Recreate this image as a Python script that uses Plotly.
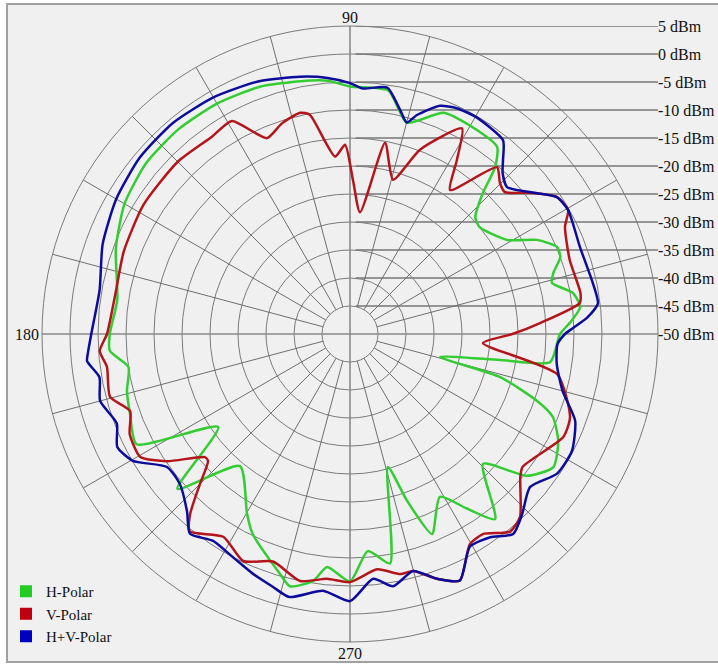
import plotly.graph_objects as go

# ---------------- data (dBm vs angle in degrees) ----------------
h_theta = [0, 2.9, 6.7, 10.4, 14.2, 16.7, 20.1, 22.8, 26.7, 30.9, 39.5, 43, 46.7, 49, 51.8, 58, 67, 75, 81, 90,
           95, 101, 110, 120, 130, 140, 150, 160, 171.7, 180, 184, 188.5, 194.3, 200, 207.3, 215.2, 221.9,
           230.2, 240.2, 244, 253.7, 256.6, 261.5, 264.4, 270, 274.7, 279.9, 285.9, 288.9, 292.3, 298.9,
           303.8, 308.1, 315.7, 321.3, 326.8, 332.8, 337.8, 340.3, 344, 345.7, 350.2, 352, 360]
h_db = [-12.5, -10.7, -8.6, -9.5, -12.8, -12.1, -10, -9.9, -12.6, -17.3, -20, -19.4, -15.4, -10.5, -7.5, -7.1,
        -7.1, -10.9, -6, -5.8, -4.6, -4, -3, -2.5, -2.3, -2.5, -3.5, -5.5, -8, -7.1, -7, -10, -8.9, -8.2, -7.1,
        -21.2, -8.6, -19.3, -13, -10.3, -5.4, -3.7, -5.4, -8.2, -5.8, -11.1, -8.4, -25.3, -18.5, -11.4,
        -16.8, -12.5, -8, -16.8, -9.5, -6.6, -8.2, -10.9, -14.5, -22.1, -33.4, -22.8, -13.9, -12.5]

v_theta = [0, 3.3, 7.7, 10.1, 18.6, 26.5, 29.6, 33.5, 38.3, 42.5, 45.2, 48.6, 55.2, 58.4, 61.4, 69.2, 74.4,
           79.6, 85.3, 88.9, 91.5, 94.8, 100.4, 102.7, 108, 113, 119, 125, 135, 148, 160, 170, 180, 183.9,
           187.7, 194.7, 199.3, 204.4, 210.4, 214.8, 220.3, 221.8, 225, 228.4, 230.9, 238, 244.8, 251.3,
           258.6, 264.6, 270, 276.6, 281.8, 284.9, 289.6, 294, 299.7, 303.6, 309, 312.9, 320, 322.4, 334.2,
           339.3, 349, 356.1, 360]
v_db = [-21, -16, -8.6, -8.2, -8.6, -7.1, -5.2, -5.7, -9.3, -12.5, -12, -10.3, -18.7, -13.6, -8.2, -14.8,
        -21.4, -15.3, -28.2, -22.5, -16.2, -18.2, -10.2, -9.5, -10.5, -12, -6.5, -7, -6.5, -6.5, -7, -7.5, -6.6,
        -5.2, -6.2, -5.7, -8.4, -6.8, -6.6, -10.2, -16, -16, -12.1, -7, -4.6, -7.3, -5.2, -7.1, -5, -6.1,
        -5.7, -7.7, -6.2, -6.2, -3.6, -1.8, -6.8, -7.1, -4.6, -5.4, -10.3, -11.1, -7.7, -8, -12.3, -26.2, -21]

hv_theta = [0, 1.5, 4, 7, 11.9, 20.7, 29.6, 33.5, 38.3, 43.1, 46.5, 48.7, 51.7, 59.7, 64.7, 68.5, 73, 75,
            77.4, 81.4, 87, 90, 95, 101, 110, 120, 130, 140, 150, 160, 170, 180, 184, 185.9, 189.8, 195, 201,
            205.9, 210.3, 216, 221.4, 227.4, 231.3, 236.5, 242.3, 248, 253, 257, 264, 270, 275.4, 279.7,
            284.9, 289.6, 294, 299.4, 304.6, 309.2, 313.7, 319.6, 326, 332.2, 338.9, 345, 351.8, 357.2, 360]
hv_db = [-11.6, -10.2, -7.5, -5.4, -5.7, -6.1, -5.2, -5.7, -9.1, -11.6, -10.4, -8.6, -5.9, -5.2, -5.4, -6.2,
         -9.1, -10.9, -9, -5.5, -6.1, -5.2, -4.1, -3.2, -2, -1.2, -0.8, -1, -1.8, -3, -4.6, -3.8, -3.1,
         -2.8, -4.6, -3.8, -5.4, -3.8, -5.1, -9.6, -9.5, -7, -4.3, -5.7, -5, -3.8, -2.8, -1.8, -3.9, -2.3,
         -6.1, -4.3, -6.2, -3.6, -1.8, -6.4, -5.9, -3.9, -5.5, -7.8, -5.4, -5.2, -6.9, -10.7, -12.7, -12.9, -11.6]

series_names = ["H-Polar", "V-Polar", "H+V-Polar"]
series_colors = ["#33cc33", "#b3151b", "#0c0c9c"]
legend_colors = ["#22cc22", "#c00010", "#0000c0"]

ring_vals = [-45, -40, -35, -30, -25, -20, -15, -10, -5, 0, 5]
ring_labels = ["-45 dBm", "-40 dBm", "-35 dBm", "-30 dBm", "-25 dBm", "-20 dBm",
               "-15 dBm", "-10 dBm", "-5 dBm", "0 dBm", "5 dBm"]
r_min, r_max = -50, 5
spoke_angles = [a for a in range(0, 360, 15) if a % 90 != 0]
axis_angles = [0, 90, 180, 270]
angle_labels = ["90", "180", "270"]

# ---------------- layout geometry ----------------
W, H = 718, 664
cx, cy, R = 350, 334, 308
xdom = [(cx - R) / W, (cx + R) / W]
ydom = [(H - (cy + R)) / H, (H - (cy - R)) / H]
FONT = "Liberation Serif"

fig = go.Figure()

# spokes (start at first ring) and main cross
sp_r, sp_t = [], []
for a in spoke_angles:
    sp_r += [ring_vals[0], r_max, None]
    sp_t += [a, a, None]
fig.add_trace(go.Scatterpolar(r=sp_r, theta=sp_t, mode="lines", line=dict(color="#6e6e6e", width=1),
                              hoverinfo="skip", showlegend=False))
ax_r, ax_t = [], []
for a in axis_angles:
    ax_r += [r_min, r_max, None]
    ax_t += [a, a, None]
fig.add_trace(go.Scatterpolar(r=ax_r, theta=ax_t, mode="lines", line=dict(color="#8a8a8a", width=1.6),
                              hoverinfo="skip", showlegend=False))

# data curves
for th, db, name, col in zip([h_theta, v_theta, hv_theta], [h_db, v_db, hv_db], series_names, series_colors):
    fig.add_trace(go.Scatterpolar(r=db, theta=th, mode="lines", name=name,
                                  line=dict(color=col, width=2.5, shape="spline", smoothing=0.6),
                                  showlegend=False))

# legend entries (square markers)
for name, col in zip(series_names, legend_colors):
    fig.add_trace(go.Scatterpolar(r=[None], theta=[None], mode="markers", name=name,
                                  marker=dict(symbol="square", size=12, color=col)))

# horizontal leader lines to the dBm labels (cartesian overlay in radius units)
span = r_max - r_min
lx, ly = [], []
for v in ring_vals:
    lx += [1, span, None]
    ly += [v - r_min, v - r_min, None]
fig.add_trace(go.Scatter(x=lx, y=ly, mode="lines", line=dict(color="#3a3a3a", width=1),
                         hoverinfo="skip", showlegend=False, xaxis="x", yaxis="y"))
for v, t in zip(ring_vals + [r_min], ring_labels + ["-50 dBm"]):
    fig.add_annotation(x=span, y=v - r_min, xref="x", yref="y", text=t, showarrow=False,
                       xanchor="left", yanchor="middle", xshift=-2,
                       font=dict(family=FONT, size=16, color="#111111"))

# angular labels at 90 / 180 / 270
afont = dict(family=FONT, size=16, color="#111111")
fig.add_annotation(x=0, y=span, xref="x", yref="y", text=angle_labels[0], showarrow=False,
                   xanchor="center", yanchor="middle", yshift=9, font=afont)
fig.add_annotation(x=-span, y=0, xref="x", yref="y", text=angle_labels[1], showarrow=False,
                   xanchor="right", yanchor="middle", xshift=-1, font=afont)
fig.add_annotation(x=0, y=-span, xref="x", yref="y", text=angle_labels[2], showarrow=False,
                   xanchor="center", yanchor="middle", yshift=-11, font=afont)

fig.update_layout(
    width=W, height=H,
    margin=dict(l=0, r=0, t=0, b=0),
    paper_bgcolor="white",
    plot_bgcolor="rgba(0,0,0,0)",
    polar=dict(
        domain=dict(x=xdom, y=ydom),
        bgcolor="rgba(0,0,0,0)",
        radialaxis=dict(range=[r_min, r_max], tickvals=ring_vals, showticklabels=False, ticks="",
                        showline=False, gridcolor="#7a7a7a", gridwidth=1),
        angularaxis=dict(rotation=0, direction="counterclockwise", showgrid=False,
                         showticklabels=False, ticks="", showline=True, linecolor="#7a7a7a", linewidth=1),
    ),
    xaxis=dict(domain=xdom, range=[-span, span], visible=False, fixedrange=True),
    yaxis=dict(domain=ydom, range=[-span, span], visible=False, fixedrange=True),
    legend=dict(x=6 / W, y=(H - 575) / H, xanchor="left", yanchor="top", bgcolor="rgba(0,0,0,0)",
                font=dict(family=FONT, size=15, color="#111111"), tracegroupgap=0),
    shapes=[dict(type="rect", xref="paper", yref="paper", x0=7 / W, x1=1.02, y0=2 / H, y1=(H - 4) / H,
                 fillcolor="#f0f0f0", line=dict(color="#a0a0a0", width=2), layer="below")],
)

fig.write_html("out.html", config={"displayModeBar": False},
               post_script="document.body.style.margin='0';document.body.style.overflow='hidden';")
